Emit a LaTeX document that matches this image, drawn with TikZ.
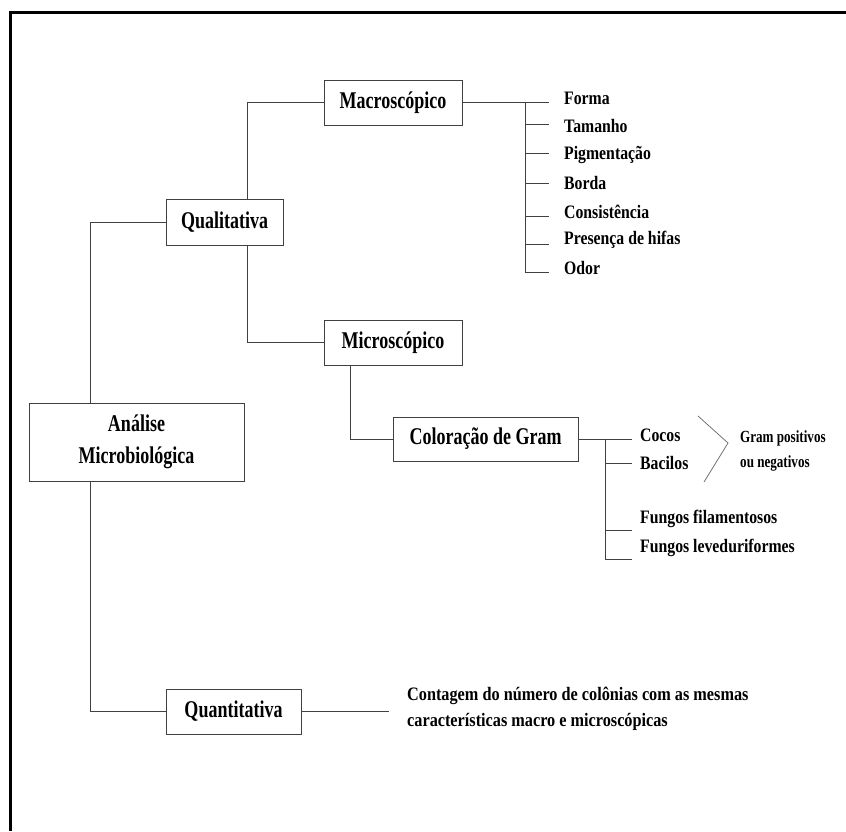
\documentclass[tikz,border=0pt]{standalone}
\usepackage{fontspec}
\setmainfont{Liberation Serif}
\newfontfamily\boxfont[FakeStretch=0.75]{Liberation Serif}
\newfontfamily\listfont[FakeStretch=0.83]{Liberation Serif}
\newfontfamily\contfont[FakeStretch=0.855]{Liberation Serif}
\newfontfamily\gpfont[FakeStretch=0.77]{Liberation Serif}
\begin{document}
\begin{tikzpicture}[x=1pt,y=-1pt,
  box/.style={draw=black!75,line width=0.9pt,inner sep=0pt,align=center,font=\boxfont\fontsize{24}{32}\bfseries\selectfont},
  item/.style={anchor=west,inner sep=0pt,font=\listfont\fontsize{19}{22}\bfseries\selectfont},
  small/.style={anchor=west,inner sep=0pt,font=\gpfont\fontsize{17}{19}\bfseries\selectfont},
  conn/.style={draw=black!75,line width=0.9pt}]
\useasboundingbox (0,0) rectangle (846,831);
% frame
\draw[line width=3pt] (10.5,831) -- (10.5,12.5) -- (846,12.5);
% boxes
\node[box,minimum width=215pt,minimum height=78pt] (ana) at (136.5,442) {Análise\\Microbiológica};
\node[box,minimum width=117pt,minimum height=46pt] (qual) at (224.5,222) {Qualitativa};
\node[box,minimum width=138pt,minimum height=45pt] (macro) at (393,102.5) {Macroscópico};
\node[box,minimum width=138pt,minimum height=45pt] (micro) at (393,342.5) {Microscópico};
\node[box,minimum width=185pt,minimum height=44pt] (gram) at (485.5,439) {Coloração de Gram};
\node[box,minimum width=135pt,minimum height=45pt] (quant) at (233.5,711.5) {Quantitativa};
% macro list
\node[item] (forma) at (564,98) {Forma};
\node[item] (tam) at (564,126) {Tamanho};
\node[item] (pig) at (564,155) {Pigmentação};
\node[item] (borda) at (564,183) {Borda};
\node[item] (cons) at (564,212) {Consistência};
\node[item] (pres) at (564,240) {Presença de hifas};
\node[item] (odor) at (564,268) {Odor};
% gram list
\node[item] (cocos) at (640,435) {Cocos};
\node[item] (bac) at (640,463) {Bacilos};
\node[item] (ffil) at (640,519) {Fungos filamentosos};
\node[item] (flev) at (640,548) {Fungos leveduriformes};
\node[small] (gpos) at (740,438) {Gram positivos};
\node[small] (gneg) at (740,463) {ou negativos};
% quantitativa text
\node[anchor=west,inner sep=0pt,align=left,font=\contfont\fontsize{19}{26}\bfseries\selectfont] (cont) at (407,709) {Contagem do número de colônias com as mesmas\\características macro e microscópicas};
\coordinate (qend) at (389,711.5);
% connectors
\draw[conn] (ana.north west) ++(62,0) |- (qual.west);
\draw[conn] (ana.south west) ++(62,0) |- (quant.west);
\draw[conn] (qual.north west) ++(82,0) |- (macro.west);
\draw[conn] (qual.south west) ++(82,0) |- (micro.west);
\draw[conn] (micro.south west) ++(27,0) |- (gram.west);
\draw[conn] (quant.east) -- (qend);
% macro fork
\coordinate (mf) at (525,102.5);
\draw[conn] (macro.east) -- ([xshift=-15pt]forma.west |- macro.east);
\draw[conn] (mf) |- ([xshift=-15pt,yshift=-4pt]odor.west);
\foreach \n/\s in {tam/2,pig/2,borda/0,cons/-4,pres/-4}
  \draw[conn] ([xshift=-15pt,yshift=\s pt]\n.west) -- ++(-24,0);
% gram fork
\coordinate (gf) at (605,439);
\draw[conn] (gram.east) -- ([xshift=-8pt]cocos.west |- gram.east);
\draw[conn] (gf) |- ([xshift=-8pt,yshift=-11pt]flev.west);
\draw[conn] ([xshift=-8pt]bac.west) -- ++(-27,0);
\draw[conn] ([xshift=-8pt,yshift=-11pt]ffil.west) -- ++(-27,0);
% chevron
\draw[draw=black!55,line width=0.8pt] (698,416) -- (728,443) -- (704,482);
\end{tikzpicture}
\end{document}
